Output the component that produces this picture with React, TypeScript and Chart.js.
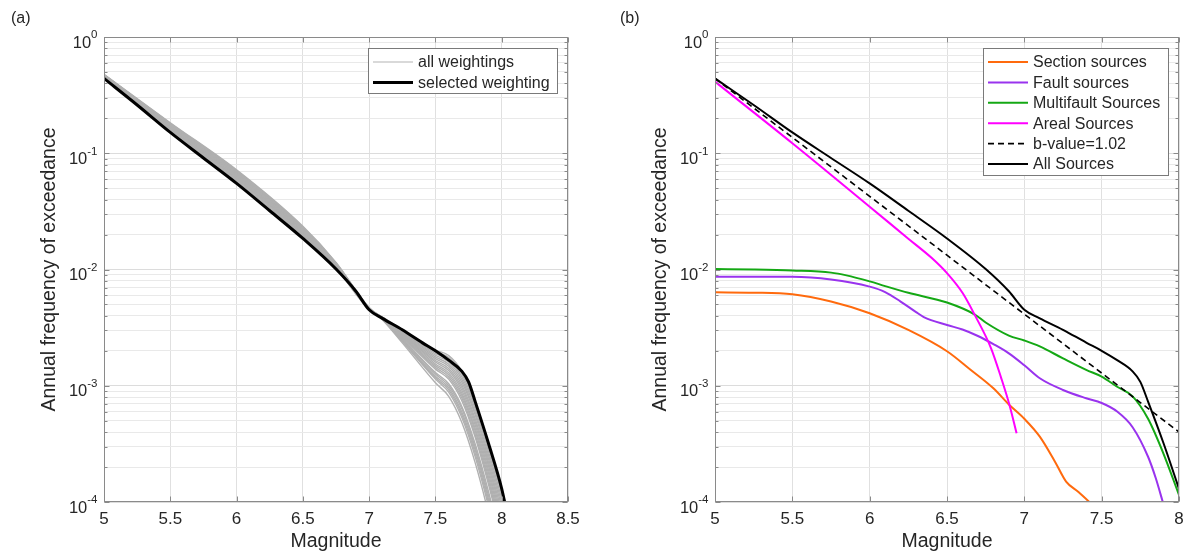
import React, { useEffect, useRef } from 'react';
import { Chart, registerables } from 'chart.js';

Chart.register(...registerables);

const FONT = '"Liberation Sans", Arial, Helvetica, sans-serif';
const TEXT = '#262626';
const AXIS = '#8a8a8a';

// ---------- tick labels ----------
const xTicksA = [5, 5.5, 6, 6.5, 7, 7.5, 8, 8.5];
const xTicksB = [5, 5.5, 6, 6.5, 7, 7.5, 8];
const yTickExponents = [0, -1, -2, -3, -4];
const yLabel = 'Annual frequency of exceedance';
const xLabel = 'Magnitude';

// ---------- panel (a): all weightings ----------
const weightingMag = [5, 5.5, 6, 6.5, 6.75, 7, 7.1, 7.25, 7.5, 7.6, 7.7, 7.8, 7.9, 8.0, 8.1];
const weightingRates = [
  [0.477, 0.183, 0.0719, 0.0235, 0.0115, 0.0047, 0.00388, 0.00301, 0.00196, 0.00175, 0.00126, 6.7e-4, 2.94e-4, 1.18e-4, 4.6e-5],
  [0.473, 0.179, 0.07, 0.023, 0.01135, 0.00468, 0.0038, 0.00269, 0.00149, 0.00124, 8.2e-4, 4.06e-4, 1.64e-4, 5.9e-5, 2.1e-5],
  [0.47, 0.176, 0.0682, 0.0224, 0.0112, 0.00466, 0.0037, 0.00234, 0.00106, 8.1e-4, 4.8e-4, 2.17e-4, 8.0e-5, 2.5e-5, 8e-6],
  [0.466, 0.173, 0.0664, 0.0219, 0.01107, 0.00463, 0.00384, 0.00284, 0.00171, 0.00147, 0.00101, 5.2e-4, 2.2e-4, 8.3e-5, 3.1e-5],
  [0.462, 0.169, 0.0646, 0.0213, 0.0109, 0.00461, 0.00376, 0.00255, 0.0013, 0.00104, 6.6e-4, 3.15e-4, 1.23e-4, 4.2e-5, 1.4e-5],
  [0.458, 0.166, 0.0628, 0.0208, 0.01076, 0.00459, 0.00372, 0.0024, 0.00114, 8.8e-4, 5.3e-4, 2.45e-4, 9.2e-5, 3e-5, 1e-5],
  [0.454, 0.163, 0.0612, 0.0204, 0.01064, 0.00458, 0.00385, 0.00293, 0.00183, 0.0016, 0.00113, 5.9e-4, 2.54e-4, 9.9e-5, 3.8e-5],
  [0.451, 0.16, 0.0596, 0.0199, 0.0105, 0.00456, 0.00378, 0.00262, 0.00139, 0.00114, 7.4e-4, 3.6e-4, 1.42e-4, 5e-5, 1.7e-5],
  [0.447, 0.157, 0.058, 0.0194, 0.01035, 0.00454, 0.00382, 0.00277, 0.0016, 0.00135, 9.1e-4, 4.6e-4, 1.9e-4, 7e-5, 2.6e-5],
  [0.472, 0.178, 0.069, 0.0226, 0.01127, 0.00467, 0.00374, 0.00247, 0.00121, 9.6e-4, 5.9e-4, 2.8e-4, 1.06e-4, 3.5e-5, 1.2e-5],
  [0.464, 0.171, 0.0655, 0.0216, 0.011, 0.00462, 0.00389, 0.00305, 0.00203, 0.00182, 0.00133, 7.1e-4, 3.15e-4, 1.28e-4, 5.1e-5],
  [0.456, 0.164, 0.0621, 0.0206, 0.0107, 0.00459, 0.00379, 0.00265, 0.00144, 0.00119, 7.8e-4, 3.8e-4, 1.53e-4, 5.4e-5, 1.9e-5],
  [0.475, 0.181, 0.071, 0.0232, 0.0114, 0.00469, 0.00383, 0.0028, 0.00165, 0.00141, 9.6e-4, 4.9e-4, 2.05e-4, 7.6e-5, 2.8e-5],
  [0.445, 0.155, 0.0573, 0.0192, 0.0103, 0.00453, 0.00375, 0.00251, 0.00126, 0.001, 6.3e-4, 2.96e-4, 1.14e-4, 3.8e-5, 1.3e-5],
  [0.46, 0.168, 0.0637, 0.0211, 0.01084, 0.0046, 0.00387, 0.00297, 0.00189, 0.00167, 0.00119, 6.3e-4, 2.73e-4, 1.08e-4, 4.2e-5],
  [0.468, 0.174, 0.0673, 0.0221, 0.01114, 0.00465, 0.00381, 0.00273, 0.00154, 0.00129, 8.6e-4, 4.3e-4, 1.77e-4, 6.4e-5, 2.3e-5],
  [0.453, 0.1614, 0.0604, 0.0201, 0.01057, 0.00457, 0.00372, 0.00244, 0.00117, 9.2e-4, 5.6e-4, 2.62e-4, 9.9e-5, 3.2e-5, 1.1e-5],
  [0.443, 0.154, 0.0565, 0.0189, 0.01023, 0.00452, 0.00385, 0.00289, 0.00177, 0.00153, 0.00107, 5.6e-4, 2.36e-4, 9.1e-5, 3.5e-5],
];

// selected weighting (= all sources)
const selectedMag = [5, 5.25, 5.5, 5.75, 6, 6.25, 6.5, 6.75, 6.9, 7, 7.1, 7.25, 7.4, 7.5, 7.6, 7.7, 7.75, 7.8, 7.9, 8.0, 8.05];
const selectedRate = [0.44, 0.26, 0.151, 0.091, 0.055, 0.032, 0.0185, 0.0101, 0.0065, 0.0045, 0.0038, 0.00303, 0.00235, 0.002, 0.00166, 0.00133, 0.00108, 7.3e-4, 3.2e-4, 1.3e-4, 7e-5];

// ---------- panel (b) ----------
const sectionMag = [5, 5.25, 5.5, 5.75, 6, 6.25, 6.5, 6.65, 6.8, 6.9, 7, 7.1, 7.2, 7.27, 7.35, 7.42, 7.45];
const sectionRate = [0.00636, 0.00632, 0.00612, 0.0053, 0.0042, 0.00302, 0.00198, 0.00138, 0.00095, 0.00069, 0.00052, 3.65e-4, 2.2e-4, 1.5e-4, 1.22e-4, 1.0e-4, 9e-5];

const faultMag = [5, 5.5, 5.75, 6, 6.1, 6.2, 6.3, 6.35, 6.5, 6.6, 6.7, 6.8, 6.9, 7, 7.1, 7.25, 7.4, 7.5, 7.6, 7.7, 7.8, 7.85, 7.9];
const faultRate = [0.00867, 0.00865, 0.0082, 0.00712, 0.0064, 0.0053, 0.0043, 0.0039, 0.00333, 0.00305, 0.00268, 0.00228, 0.0019, 0.0015, 0.00116, 9.2e-4, 7.8e-4, 7.1e-4, 6.0e-4, 4.4e-4, 2.45e-4, 1.6e-4, 9.5e-5];

const multifaultMag = [5, 5.25, 5.5, 5.75, 5.85, 6, 6.1, 6.25, 6.5, 6.68, 6.75, 6.9, 7, 7.1, 7.25, 7.4, 7.5, 7.6, 7.7, 7.8, 7.9, 8.0];
const multifaultRate = [0.0101, 0.01, 0.0098, 0.0094, 0.0089, 0.0079, 0.0072, 0.0063, 0.0052, 0.0041, 0.0035, 0.0027, 0.00245, 0.00218, 0.00172, 0.00137, 0.0012, 9.8e-4, 8.1e-4, 5.2e-4, 2.6e-4, 1.15e-4];

const arealMag = [5, 5.5, 6, 6.25, 6.4, 6.5, 6.6, 6.68, 6.785, 6.85, 6.903, 6.95];
const arealRate = [0.413, 0.122, 0.0347, 0.0184, 0.0126, 0.0093, 0.0063, 0.00405, 0.0021, 0.00117, 6.9e-4, 3.9e-4];

const bValueMag = [5, 6, 7, 8];
const bValueRate = [0.44, 0.0426, 0.00413, 4.0e-4];

const allMag = [5, 5.25, 5.5, 5.75, 6, 6.25, 6.5, 6.75, 6.9, 7, 7.1, 7.25, 7.4, 7.5, 7.6, 7.7, 7.75, 7.8, 7.9, 8.0];
const allRate = [0.44, 0.26, 0.151, 0.091, 0.055, 0.032, 0.0185, 0.0101, 0.0065, 0.0045, 0.0038, 0.00303, 0.00235, 0.002, 0.00166, 0.00133, 0.00108, 7.3e-4, 3.2e-4, 1.3e-4];

// ---------- helpers ----------
const pts = (xs: number[], ys: number[]) => xs.map((x, i) => ({ x, y: ys[i] }));
const isDecade = (v: number) => Math.abs(Math.log10(v) - Math.round(Math.log10(v))) < 1e-9;

function yGridValues(): number[] {
  const out: number[] = [];
  const lo = Math.min(...yTickExponents);
  const hi = Math.max(...yTickExponents);
  for (let e = lo; e < hi; e++) {
    for (let s = 1; s <= 9; s++) out.push(parseFloat((s * Math.pow(10, e)).toPrecision(6)));
  }
  out.push(Math.pow(10, hi));
  return out;
}

const framePlugin = {
  id: 'matlabFrame',
  afterDatasetsDraw(chart: any) {
    const { ctx, chartArea, scales } = chart;
    const x = scales.x;
    const y = scales.y;
    const L = Math.round(chartArea.left) + 0.5;
    const R = Math.round(chartArea.right) - 0.5;
    const T = Math.round(chartArea.top) + 0.5;
    const B = Math.round(chartArea.bottom) - 0.5;
    ctx.save();
    ctx.strokeStyle = AXIS;
    ctx.lineWidth = 1;
    ctx.strokeRect(L, T, R - L, B - T);
    const line = (x1: number, y1: number, x2: number, y2: number) => {
      ctx.beginPath();
      ctx.moveTo(x1, y1);
      ctx.lineTo(x2, y2);
      ctx.stroke();
    };
    x.ticks.forEach((t: any) => {
      const px = Math.round(x.getPixelForValue(t.value)) + 0.5;
      line(px, B, px, B - 5);
      line(px, T, px, T + 5);
    });
    y.ticks.forEach((t: any) => {
      const py = Math.round(y.getPixelForValue(t.value)) + 0.5;
      const len = isDecade(t.value) ? 5 : 3;
      line(L, py, L + len, py);
      line(R, py, R - len, py);
    });
    // y tick labels 10^n
    ctx.fillStyle = TEXT;
    ctx.textBaseline = 'alphabetic';
    ctx.textAlign = 'left';
    const rightEdge = chartArea.left - 6.5;
    yTickExponents.forEach((e) => {
      const py = y.getPixelForValue(Math.pow(10, e));
      const sup = String(e);
      ctx.font = `11.5px ${FONT}`;
      const supW = ctx.measureText(sup).width;
      ctx.font = `16.5px ${FONT}`;
      const baseW = ctx.measureText('10').width;
      ctx.fillText('10', rightEdge - supW - baseW, py + 10.6);
      ctx.font = `11.5px ${FONT}`;
      ctx.fillText(sup, rightEdge - supW, py + 1.3);
    });
    ctx.restore();
  },
};

const boxLegendPlugin = {
  id: 'boxLegend',
  afterDraw(chart: any, _args: any, opts: any) {
    if (!opts || !opts.items) return;
    const { ctx, chartArea } = chart;
    const items = opts.items;
    const n = items.length;
    const rowH = 20.4;
    const right = Math.round(chartArea.right - 11);
    const left = right - opts.width;
    const top = Math.round(chartArea.top + 11);
    const h = Math.round(14 + (n - 1) * rowH + 11);
    ctx.save();
    ctx.fillStyle = '#ffffff';
    ctx.fillRect(left, top, opts.width, h);
    ctx.strokeStyle = '#7a7a7a';
    ctx.lineWidth = 1;
    ctx.strokeRect(left + 0.5, top + 0.5, opts.width, h);
    items.forEach((it: any, i: number) => {
      const yy = top + 14 + i * rowH;
      ctx.beginPath();
      ctx.setLineDash(it.dash || []);
      ctx.strokeStyle = it.color;
      ctx.lineWidth = it.width;
      ctx.moveTo(left + 5, yy);
      ctx.lineTo(left + 45, yy);
      ctx.stroke();
      ctx.setLineDash([]);
      ctx.fillStyle = TEXT;
      ctx.font = `16px ${FONT}`;
      ctx.textBaseline = 'middle';
      ctx.textAlign = 'left';
      ctx.fillText(it.label, left + 50, yy + 1);
    });
    ctx.restore();
  },
};

function makeScales(xTicks: number[], xMax: number, yWidth: number, yTitleOffset: number) {
  const yVals = yGridValues();
  return {
    x: {
      type: 'linear',
      min: xTicks[0],
      max: xMax,
      afterBuildTicks: (s: any) => {
        s.ticks = xTicks.map((v) => ({ value: v }));
      },
      ticks: {
        color: TEXT,
        font: { family: FONT, size: 17 },
        padding: 0,
        maxRotation: 0,
        autoSkip: false,
        callback: (v: any) => String(v),
      },
      grid: { color: '#e0e0e0', drawTicks: true, tickLength: 7, tickColor: 'rgba(0,0,0,0)', lineWidth: 1 },
      border: { display: false },
      title: {
        display: true,
        text: xLabel,
        color: TEXT,
        font: { family: FONT, size: 19.5 },
        padding: { top: 0, bottom: 2.3 },
      },
      afterFit: (s: any) => {
        s.height = 54;
      },
    },
    y: {
      type: 'logarithmic',
      min: 1e-4,
      max: 1,
      afterBuildTicks: (s: any) => {
        s.ticks = yVals.map((v) => ({ value: v }));
      },
      ticks: { display: false },
      grid: {
        color: (c: any) => (c.tick && isDecade(c.tick.value) ? '#dcdcdc' : '#e9e9e9'),
        drawTicks: false,
        lineWidth: 1,
      },
      border: { display: false },
      title: {
        display: true,
        text: yLabel,
        color: TEXT,
        font: { family: FONT, size: 19.5 },
        padding: { top: yTitleOffset - 11.7, bottom: 0 },
      },
      afterFit: (s: any) => {
        s.width = yWidth;
      },
    },
  };
}

function configA(): any {
  const grays = weightingRates.map((rates) => ({
    label: 'all weightings',
    data: pts(weightingMag, rates),
    borderColor: '#b0b0b0',
    borderWidth: 1.4,
    pointRadius: 0,
    cubicInterpolationMode: 'monotone',
    fill: false,
  }));
  const selected = {
    label: 'selected weighting',
    data: pts(selectedMag, selectedRate),
    borderColor: '#000000',
    borderWidth: 3,
    pointRadius: 0,
    cubicInterpolationMode: 'monotone',
    fill: false,
  };
  return {
    type: 'line',
    data: { datasets: [selected, ...grays] },
    options: {
      responsive: false,
      animation: false,
      devicePixelRatio: 1,
      layout: { padding: { left: 0, right: 32, top: 37, bottom: 0 } },
      scales: makeScales(xTicksA, 8.5, 104, 50),
      plugins: {
        legend: { display: false },
        tooltip: { enabled: false },
        boxLegend: {
          width: 189,
          items: [
            { label: 'all weightings', color: '#b3b3b3', width: 1 },
            { label: 'selected weighting', color: '#000000', width: 3 },
          ],
        },
      },
    },
    plugins: [framePlugin, boxLegendPlugin],
  };
}

function configB(): any {
  const series = [
    { label: 'Section sources', data: pts(sectionMag, sectionRate), color: '#ff6a0d', width: 2, mono: true },
    { label: 'Fault sources', data: pts(faultMag, faultRate), color: '#9933ee', width: 2, mono: true },
    { label: 'Multifault Sources', data: pts(multifaultMag, multifaultRate), color: '#14a814', width: 2, mono: true },
    { label: 'Areal Sources', data: pts(arealMag, arealRate), color: '#ff00ff', width: 2, mono: true },
    { label: 'b-value=1.02', data: pts(bValueMag, bValueRate), color: '#000000', width: 1.6, dash: [6, 4], mono: false },
    { label: 'All Sources', data: pts(allMag, allRate), color: '#000000', width: 2, mono: true },
  ];
  const datasets = series
    .map((s) => ({
      label: s.label,
      data: s.data,
      borderColor: s.color,
      borderWidth: s.width,
      borderDash: s.dash || [],
      pointRadius: 0,
      fill: false,
      tension: 0,
      cubicInterpolationMode: s.mono ? 'monotone' : 'default',
    }))
    .reverse();
  return {
    type: 'line',
    data: { datasets },
    options: {
      responsive: false,
      animation: false,
      devicePixelRatio: 1,
      layout: { padding: { left: 0, right: 8, top: 37, bottom: 0 } },
      scales: makeScales(xTicksB, 8, 115, 61),
      plugins: {
        legend: { display: false },
        tooltip: { enabled: false },
        boxLegend: {
          width: 185,
          items: series.map((s) => ({ label: s.label, color: s.color, width: s.width, dash: s.dash })),
        },
      },
    },
    plugins: [framePlugin, boxLegendPlugin],
  };
}

function ChartCanvas({ left, width, make }: { left: number; width: number; make: () => any }) {
  const ref = useRef<HTMLCanvasElement | null>(null);
  useEffect(() => {
    if (!ref.current) return;
    const chart = new Chart(ref.current, make());
    return () => chart.destroy();
  }, [make]);
  return (
    <canvas
      ref={ref}
      width={width}
      height={556}
      style={{ position: 'absolute', left, top: 0, width, height: 556 }}
    />
  );
}

export default function App() {
  const labelStyle: React.CSSProperties = {
    position: 'absolute',
    top: 9,
    font: `16px ${FONT}`,
    lineHeight: '18px',
    color: TEXT,
  };
  return (
    <div style={{ position: 'fixed', left: 0, top: 0, width: 1187, height: 556, background: '#ffffff', overflow: 'hidden' }}>
      <ChartCanvas left={0} width={600} make={configA} />
      <ChartCanvas left={600} width={587} make={configB} />
      <div style={{ ...labelStyle, left: 11 }}>(a)</div>
      <div style={{ ...labelStyle, left: 620 }}>(b)</div>
    </div>
  );
}
